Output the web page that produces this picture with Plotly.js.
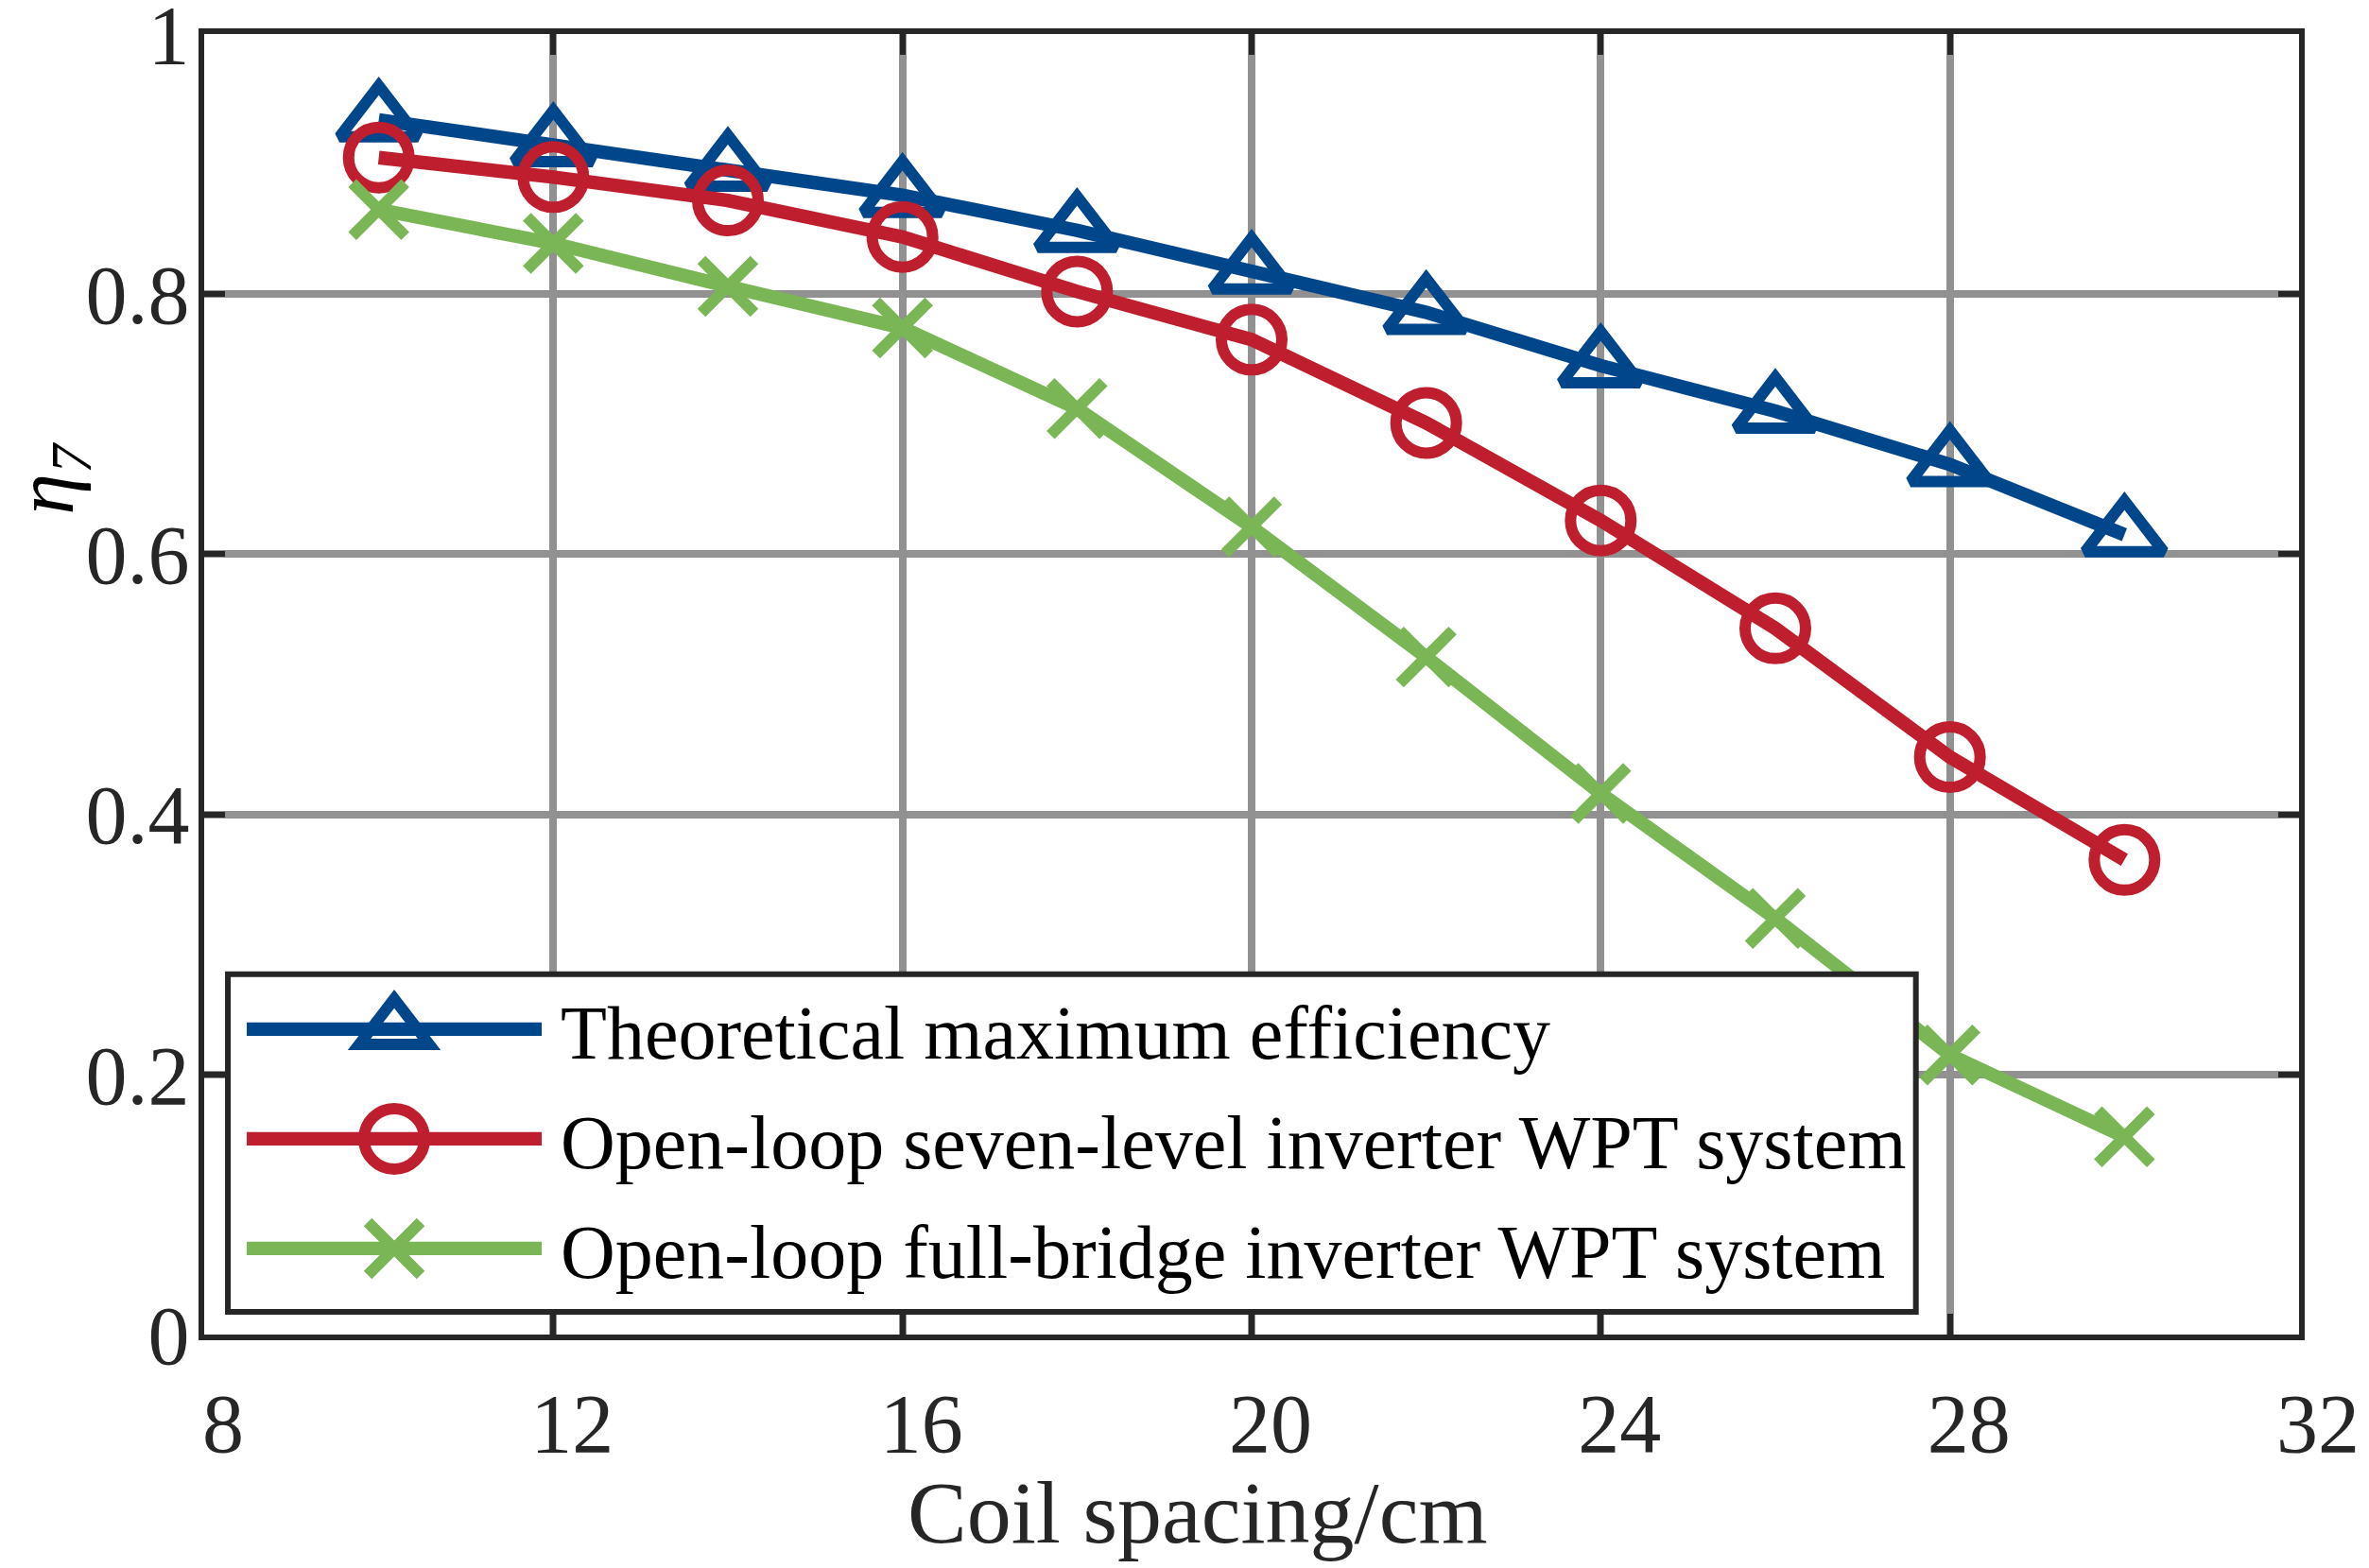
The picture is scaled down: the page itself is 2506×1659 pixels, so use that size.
<!DOCTYPE html>
<html>
<head>
<meta charset="utf-8">
<script src="https://cdn.plot.ly/plotly-3.0.1.min.js"></script>
<style>
  html, body { margin: 0; padding: 0; background: #ffffff; overflow: hidden; }
  #wrap { width: 2506px; height: 1659px; position: relative; overflow: hidden; }
  #chart { width: 626.5px; height: 414.75px; transform: scale(4); transform-origin: 0 0; position: absolute; left: 0; top: 0; }
</style>
</head>
<body>
<div id="wrap"><div id="chart"></div></div>
<script>
// ---- data ----
var coilSpacing = [10, 12, 14, 16, 18, 20, 22, 24, 26, 28, 30];
var theoreticalMax = [0.934, 0.915, 0.896, 0.876, 0.849, 0.817, 0.786, 0.745, 0.710, 0.669, 0.615];
var sevenLevel = [0.905, 0.890, 0.872, 0.844, 0.802, 0.765, 0.701, 0.626, 0.543, 0.444, 0.365];
var fullBridge = [0.865, 0.839, 0.806, 0.774, 0.712, 0.621, 0.521, 0.416, 0.320, 0.215, 0.152];
var seriesNames = [
  'Theoretical maximum efficiency',
  'Open-loop seven-level inverter WPT system',
  'Open-loop full-bridge inverter WPT system'
];
var xTickVals = [8, 12, 16, 20, 24, 28, 32];
var yTickVals = [0, 0.2, 0.4, 0.6, 0.8, 1];
var yTickText = ['0', '0.2', '0.4', '0.6', '0.8', '1'];
var xTitle = 'Coil spacing/cm';
var yTitle = '<i>η</i><sub><i>7</i></sub>';

// ---- styling ----
var SERIF = '"Liberation Serif", "Times New Roman", serif';
var blue = '#00468b', red = '#be1e2d', green = '#7ab656';
var LW = 3.6;
var MLW = 3;

function mk(y, name, color, symbol, size, group) {
  return {
    x: coilSpacing, y: y, name: name, type: 'scatter', mode: 'lines+markers',
    legendgroup: group,
    line: { color: color, width: LW },
    marker: { symbol: symbol, size: size, color: color, line: { color: color, width: MLW } }
  };
}

var traces = [
  mk(theoreticalMax, seriesNames[0], blue, 'triangle-up-open', 18, 'a'),
  mk(sevenLevel, seriesNames[1], red, 'circle-open', 16, 'b'),
  mk(fullBridge, seriesNames[2], green, 'x-thin', 14, 'c')
];

var axisCommon = {
  showline: true, linecolor: '#262626', linewidth: 1.5, mirror: 'ticks',
  ticks: 'inside', ticklen: 5.5, tickwidth: 1.5, tickcolor: '#262626',
  showgrid: true, gridcolor: '#919191', gridwidth: 2,
  zeroline: false, ticklabeloverflow: 'allow',
  tickfont: { family: SERIF, size: 22, color: '#262626' }
};

var layout = {
  width: 626.5, height: 414.75,
  margin: { l: 54.25, r: 18.75, t: 9, b: 62, pad: 0 },
  paper_bgcolor: '#ffffff', plot_bgcolor: '#ffffff',
  showlegend: true,
  xaxis: Object.assign({}, axisCommon, {
    range: [8, 32], tickmode: 'array', tickvals: xTickVals,
    ticklabelshift: 5, ticklabelstandoff: 3
  }),
  yaxis: Object.assign({}, axisCommon, {
    range: [0, 1], tickmode: 'array', tickvals: yTickVals, ticktext: yTickText,
    ticklabelstandoff: -2
  }),
  legend: {
    x: 0.0113, y: 0.2915, xanchor: 'left', yanchor: 'top',
    bgcolor: 'rgba(0,0,0,0)', borderwidth: 0,
    font: { family: SERIF, size: 20, color: '#000000' },
    itemwidth: 78, tracegroupgap: 0, traceorder: 'normal'
  },
  shapes: [
    // legend frame (opaque, covers grid and lines like the reference)
    { type: 'rect', xref: 'paper', yref: 'paper', layer: 'above',
      x0: 0.0113, x1: 0.8171, y0: 0.01745, y1: 0.2771,
      fillcolor: '#ffffff', line: { color: '#262626', width: 1.5 } }
  ],
  annotations: [
    { text: xTitle, xref: 'paper', yref: 'paper', x: 0.4734, y: -0.138,
      xanchor: 'center', yanchor: 'middle', showarrow: false,
      font: { family: SERIF, size: 23.5, color: '#262626' } },
    { text: yTitle, xref: 'paper', yref: 'paper', x: -0.0736, y: 0.66,
      xanchor: 'center', yanchor: 'middle', showarrow: false, textangle: -90,
      font: { family: SERIF, size: 22, color: '#000000' } }
  ]
};

Plotly.newPlot('chart', traces, layout, { displayModeBar: false, staticPlot: true });
</script>
</body>
</html>
